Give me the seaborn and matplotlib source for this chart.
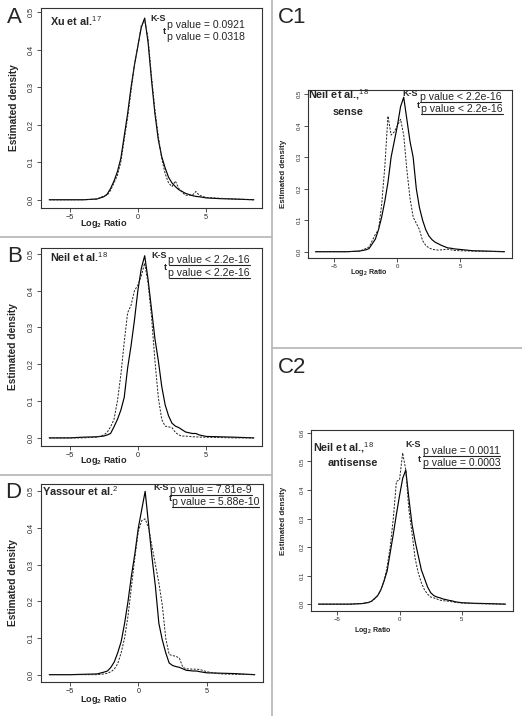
import matplotlib
matplotlib.use("Agg")
import matplotlib.pyplot as plt
from matplotlib.lines import Line2D
import seaborn as sns

sns.set_style("ticks")
plt.rcParams["font.family"] = ["Liberation Sans", "DejaVu Sans"]
plt.rcParams["mathtext.fontset"] = "custom"
plt.rcParams["mathtext.rm"] = "Liberation Sans"
plt.rcParams["mathtext.bf"] = "Liberation Sans:bold"

W, H = 522, 716

log2_ratio = [-6.5, -5, -4, -3, -2.5, -2.25, -2, -1.75, -1.5, -1.25, -1, -0.75,
              -0.5, -0.25, 0, 0.25, 0.5, 0.75, 1, 1.25, 1.5, 1.75, 2, 2.25,
              2.5, 2.75, 3, 3.25, 3.5, 4, 4.25, 4.5, 5, 6, 7, 8.5]

xu_solid = [0, 0, 0, 0.002, 0.008, 0.015, 0.03, 0.05, 0.075, 0.11, 0.17, 0.23,
            0.3, 0.36, 0.41, 0.46, 0.485, 0.42, 0.32, 0.23, 0.16, 0.115, 0.085, 0.06,
            0.045, 0.035, 0.027, 0.022, 0.017, 0.011, 0.009, 0.008, 0.005, 0.003, 0.002, 0]
xu_dashed = [0, 0, 0, 0.002, 0.01, 0.012, 0.025, 0.045, 0.065, 0.1, 0.16, 0.22,
             0.29, 0.36, 0.41, 0.465, 0.48, 0.43, 0.33, 0.24, 0.17, 0.11, 0.07, 0.045,
             0.035, 0.05, 0.03, 0.02, 0.012, 0.012, 0.022, 0.012, 0.006, 0.004, 0.002, 0]

neil_solid = [0, 0, 0.002, 0.003, 0.005, 0.008, 0.012, 0.03, 0.05, 0.075, 0.11, 0.19,
              0.25, 0.32, 0.4, 0.46, 0.495, 0.43, 0.35, 0.27, 0.21, 0.14, 0.09, 0.06,
              0.04, 0.032, 0.028, 0.022, 0.016, 0.012, 0.012, 0.008, 0.004, 0.003, 0.002, 0]
neil_dashed = [0, 0, 0, 0.002, 0.008, 0.015, 0.03, 0.05, 0.1, 0.17, 0.26, 0.34,
               0.36, 0.4, 0.415, 0.44, 0.475, 0.42, 0.33, 0.21, 0.11, 0.05, 0.032, 0.03,
               0.028, 0.015, 0.008, 0.005, 0.005, 0.003, 0.003, 0.002, 0.002, 0.001, 0, 0]

yassour_solid = [0, 0, 0.001, 0.002, 0.007, 0.01, 0.02, 0.035, 0.06, 0.09, 0.14, 0.2,
                 0.27, 0.33, 0.4, 0.45, 0.5, 0.41, 0.32, 0.24, 0.14, 0.095, 0.06, 0.032,
                 0.025, 0.022, 0.02, 0.016, 0.012, 0.01, 0.01, 0.008, 0.005, 0.004, 0.003, 0]
yassour_dashed = [0, 0, 0, 0, 0.002, 0.004, 0.008, 0.015, 0.03, 0.06, 0.1, 0.16,
                  0.24, 0.32, 0.39, 0.42, 0.425, 0.4, 0.35, 0.3, 0.25, 0.19, 0.1, 0.055,
                  0.052, 0.05, 0.045, 0.02, 0.016, 0.015, 0.015, 0.014, 0.008, 0.002, 0.001, 0]

sense_solid = [0, 0, 0, 0.002, 0.006, 0.01, 0.025, 0.04, 0.07, 0.11, 0.16, 0.22,
               0.3, 0.35, 0.4, 0.46, 0.49, 0.42, 0.35, 0.3, 0.2, 0.14, 0.1, 0.07,
               0.05, 0.038, 0.03, 0.025, 0.02, 0.012, 0.011, 0.009, 0.007, 0.003, 0.002, 0]
sense_dashed = [0, 0, 0, 0.002, 0.01, 0.015, 0.035, 0.055, 0.07, 0.15, 0.27, 0.43,
                0.37, 0.38, 0.4, 0.42, 0.37, 0.26, 0.17, 0.11, 0.09, 0.07, 0.035, 0.02,
                0.012, 0.008, 0.006, 0.005, 0.006, 0.008, 0.006, 0.004, 0.003, 0.002, 0.001, 0]

antisense_solid = [0, 0, 0, 0.002, 0.006, 0.01, 0.02, 0.03, 0.05, 0.08, 0.115, 0.18,
                   0.245, 0.315, 0.38, 0.44, 0.47, 0.37, 0.28, 0.22, 0.17, 0.12, 0.09, 0.06,
                   0.04, 0.03, 0.025, 0.022, 0.018, 0.013, 0.011, 0.008, 0.005, 0.003, 0.002, 0]
antisense_dashed = [0, 0, 0, 0.002, 0.005, 0.01, 0.018, 0.03, 0.05, 0.08, 0.13, 0.2,
                    0.3, 0.43, 0.435, 0.53, 0.47, 0.33, 0.25, 0.16, 0.11, 0.075, 0.05, 0.035,
                    0.025, 0.022, 0.018, 0.014, 0.012, 0.01, 0.008, 0.006, 0.004, 0.002, 0.001, 0]

x_ticks = [-5, 0, 5]

# one entry per panel; geometry is in output pixels (left, top, right, bottom)
panels = [
    dict(letter="A", box=(41, 8, 262, 208), ylim=(-0.022, 0.512), ymax=0.5,
         solid=xu_solid, dashed=xu_dashed, small=False, underline=False,
         letter_at=(7, 23), study=[("Xu et al.$^{17}$", 50, 26)],
         ks=(166, 21), row1=(167, 27.5, "p value = 0.0921"),
         t=(166, 33.5), row2=(167, 39.5, "p value = 0.0318"),
         ylab_x=-0.124, xlab=(0.283, -0.08)),
    dict(letter="B", box=(41, 248, 262, 446), ylim=(-0.022, 0.516), ymax=0.5,
         solid=neil_solid, dashed=neil_dashed, small=False, underline=True,
         letter_at=(7, 262), study=[("Neil et al.$^{18}$", 50, 262)],
         ks=(167, 258), row1=(168.5, 263, "p value < 2.2e-16"),
         t=(167, 270.5), row2=(168.5, 275.5, "p value < 2.2e-16"),
         ylab_x=-0.125, xlab=(0.285, -0.075)),
    dict(letter="D", box=(41, 484, 263, 682), ylim=(-0.02, 0.52), ymax=0.5,
         solid=yassour_solid, dashed=yassour_dashed, small=False, underline=True,
         letter_at=(5, 498), study=[("Yassour et al.$^{2}$", 42, 496)],
         ks=(169, 490), row1=(170, 493, "p value = 7.81e-9"),
         t=(171.5, 501), row2=(172, 505, "p value = 5.88e-10"),
         ylab_x=-0.125, xlab=(0.285, -0.09)),
    dict(letter="C1", box=(308, 90, 512, 258), ylim=(-0.02, 0.513), ymax=0.5,
         solid=sense_solid, dashed=sense_dashed, small=True, underline=True,
         letter_at=(278, 23), study=[("Neil et al.,$^{18}$", 308.5, 98.5), ("sense", 333, 115)],
         ks=(418, 96), row1=(419.5, 100, "p value < 2.2e-16"),
         t=(420, 108), row2=(421, 111.5, "p value < 2.2e-16"),
         ylab_x=-0.118, xlab=(0.297, -0.086)),
    dict(letter="C2", box=(311, 430, 513, 611), ylim=(-0.024, 0.61), ymax=0.6,
         solid=antisense_solid, dashed=antisense_dashed, small=True, underline=True,
         letter_at=(278, 373), study=[("Neil et al.,$^{18}$", 313, 451), ("antisense", 328, 466)],
         ks=(421, 447), row1=(422.7, 453.5, "p value = 0.0011"),
         t=(421, 462), row2=(422.7, 465.5, "p value = 0.0003"),
         ylab_x=-0.136, xlab=(0.304, -0.11)),
]


def fx(px):
    return px / W


def fy(py):
    return 1 - py / H


fig = plt.figure(figsize=(W / 100, H / 100), dpi=100)

# grey frame lines separating the panels
sep = "#b4b4b4"
fig.add_artist(Line2D([fx(0), fx(272)], [fy(237), fy(237)], color=sep, lw=1.2))
fig.add_artist(Line2D([fx(0), fx(272)], [fy(475), fy(475)], color=sep, lw=1.2))
fig.add_artist(Line2D([fx(272), fx(272)], [0, 1], color=sep, lw=1.2))
fig.add_artist(Line2D([fx(272), 1], [fy(348), fy(348)], color=sep, lw=1.2))

underlined = []
for p in panels:
    l, t, r, b = p["box"]
    ax = fig.add_axes([fx(l), fy(b), (r - l) / W, (b - t) / H])
    sns.lineplot(x=log2_ratio, y=p["solid"], ax=ax, color="black", linewidth=0.85)
    sns.lineplot(x=log2_ratio, y=p["dashed"], ax=ax, color="#222222", linewidth=0.7,
                 linestyle=(0, (2.2, 1.4)))
    ax.set_xlim(-7.1, 9.1)
    ax.set_ylim(*p["ylim"])
    ax.set_xticks(x_ticks)
    n = int(round(p["ymax"] * 10))
    ax.set_yticks([i / 10 for i in range(n + 1)])
    ax.set_yticklabels([f"{i / 10:.1f}" for i in range(n + 1)], rotation=90, va="center")
    tick_fs = 4.3 if p["small"] else 5.2
    lab_scale = 0.78 if p["small"] else 1.0
    ax.tick_params(direction="out", length=3, width=0.6, labelsize=tick_fs, pad=1.5,
                   color="#333333")
    for s in ax.spines.values():
        s.set_visible(True)
        s.set_linewidth(0.8)
        s.set_color("#333333")
    ax.set_xlabel("")
    ax.set_ylabel("")
    ax.text(p["ylab_x"], 0.5, "Estimated density", transform=ax.transAxes, rotation=90,
            ha="center", va="center", fontsize=7.3 * lab_scale, fontweight="bold")
    ax.text(p["xlab"][0], p["xlab"][1], r"Log$_\mathbf{2}$ Ratio", transform=ax.transAxes,
            ha="center", va="center", fontsize=6.6 * lab_scale, fontweight="bold")

    # panel letter and annotations, placed in figure pixels
    fig.text(fx(p["letter_at"][0]), fy(p["letter_at"][1]), p["letter"], fontsize=16,
             va="baseline", ha="left")
    for txt, x, y in p["study"]:
        fig.text(fx(x), fy(y), txt, fontsize=7.8, fontweight="bold", va="baseline")
    fig.text(fx(p["ks"][0]), fy(p["ks"][1]), "K-S", fontsize=6.5, fontweight="bold",
             ha="right", va="baseline")
    fig.text(fx(p["t"][0]), fy(p["t"][1]), "t", fontsize=6.5, fontweight="bold",
             ha="right", va="baseline")
    for x, y, txt in (p["row1"], p["row2"]):
        tx = fig.text(fx(x), fy(y), txt, fontsize=7.6, va="baseline", ha="left")
        if p["underline"]:
            underlined.append((tx, y))

fig.canvas.draw()
renderer = fig.canvas.get_renderer()
for tx, y in underlined:
    bb = tx.get_window_extent(renderer)
    fig.add_artist(Line2D([bb.x0 / W, bb.x1 / W], [fy(y + 2), fy(y + 2)],
                          color="#222222", lw=0.8))

fig.savefig("out.png", dpi=100)
